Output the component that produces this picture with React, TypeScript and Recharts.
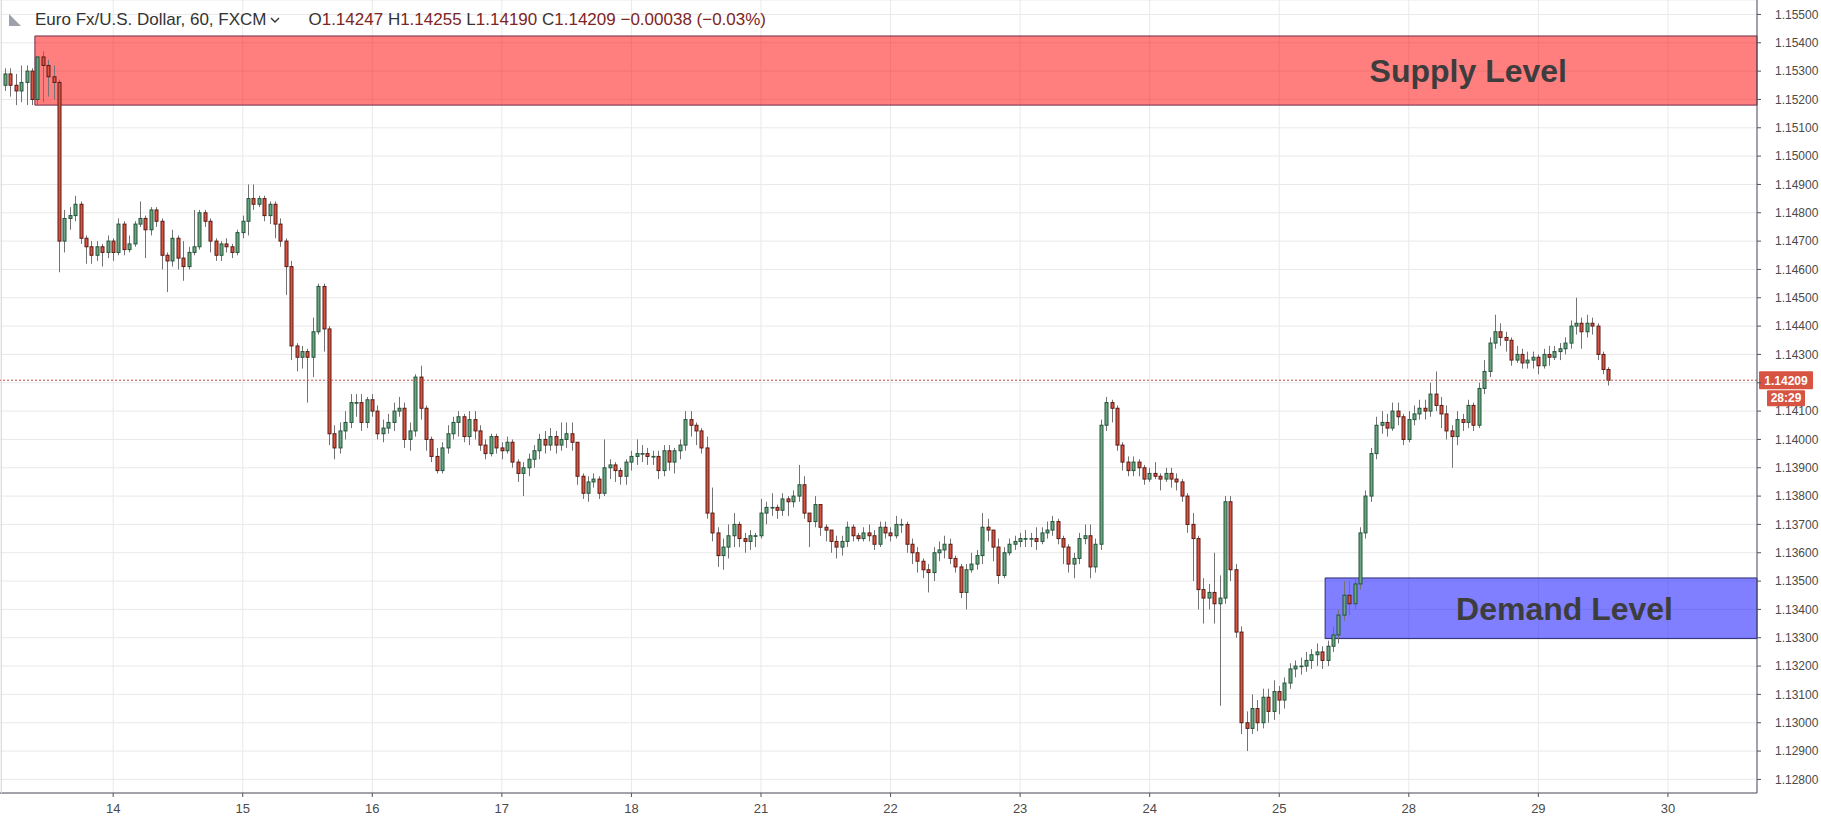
import React from "react";
import {
  ComposedChart,
  Bar,
  XAxis,
  YAxis,
  CartesianGrid,
  ReferenceArea,
  ReferenceLine,
  Label,
} from "recharts";

// day labels on the time axis and the bar index where each day starts
const dayStarts = [20, 44, 68, 92, 116, 140, 164, 188, 212, 236, 260, 284, 308];
const dayLabels = ["14", "15", "16", "17", "18", "21", "22", "23", "24", "25", "28", "29", "30"];

const priceTicks = [
  1.128, 1.129, 1.13, 1.131, 1.132, 1.133, 1.134, 1.135, 1.136, 1.137, 1.138, 1.139, 1.14, 1.141,
  1.142, 1.143, 1.144, 1.145, 1.146, 1.147, 1.148, 1.149, 1.15, 1.151, 1.152, 1.153, 1.154, 1.155,
];

// hourly candles, open of each bar = close of the previous one
const firstOpen = 1.1525;
const closes = [
  1.1529, 1.1525, 1.1523, 1.1526, 1.153, 1.152, 1.1535, 1.1532, 1.1528, 1.1526,
  1.147, 1.1478, 1.1479, 1.1483, 1.1471, 1.1468, 1.1465, 1.1468, 1.1466, 1.147,
  1.1466, 1.1476, 1.1467, 1.1469, 1.1476, 1.1478, 1.1474, 1.1481, 1.1477, 1.1465,
  1.1463, 1.1471, 1.1464, 1.1461, 1.1466, 1.1468, 1.148, 1.1477, 1.147, 1.1465,
  1.1469, 1.1468, 1.1466, 1.1473, 1.1477, 1.1485, 1.1483, 1.1485, 1.1479, 1.1483,
  1.1476, 1.147, 1.1461, 1.1433, 1.1429, 1.1431, 1.1429, 1.1438, 1.1454, 1.1439,
  1.1402, 1.1397, 1.1403, 1.1406, 1.1413, 1.1413, 1.1406, 1.1414, 1.141, 1.1402,
  1.1404, 1.1406, 1.141, 1.1411, 1.14, 1.1403, 1.1422, 1.1411, 1.14, 1.1394,
  1.1389, 1.1397, 1.1402, 1.1406, 1.1408, 1.1401, 1.1407, 1.1403, 1.1398, 1.1395,
  1.1401, 1.1397, 1.1396, 1.1399, 1.1392, 1.1388, 1.139, 1.1393, 1.1396, 1.14,
  1.1398, 1.1401, 1.1398, 1.14, 1.1402, 1.1399, 1.1387, 1.1381, 1.1385, 1.1386,
  1.1381, 1.139, 1.1391, 1.1389, 1.1387, 1.1392, 1.1394, 1.1395, 1.1395, 1.1394,
  1.1394, 1.1389, 1.1396, 1.1392, 1.1396, 1.1398, 1.1407, 1.1405, 1.1403, 1.1397,
  1.1374, 1.1367, 1.1359, 1.1362, 1.1366, 1.137, 1.1365, 1.1364, 1.1366, 1.1366,
  1.1374, 1.1376, 1.1376, 1.1375, 1.1379, 1.1378, 1.138, 1.1384, 1.1374, 1.1371,
  1.1377, 1.1369, 1.1368, 1.1364, 1.1362, 1.1364, 1.1369, 1.1366, 1.1365, 1.1367,
  1.1366, 1.1363, 1.1369, 1.1367, 1.1366, 1.137, 1.137, 1.1363, 1.136, 1.1357,
  1.1354, 1.1353, 1.136, 1.1361, 1.1363, 1.1358, 1.1355, 1.1346, 1.1354, 1.1356,
  1.1359, 1.1369, 1.1368, 1.1362, 1.1352, 1.136, 1.1363, 1.1364, 1.1365, 1.1365,
  1.1365, 1.1364, 1.1367, 1.1368, 1.1371, 1.1365, 1.1362, 1.1356, 1.1358, 1.1365,
  1.1366, 1.1355, 1.1363, 1.1405, 1.1413, 1.1411, 1.1398, 1.1392, 1.1389, 1.1392,
  1.139, 1.1386, 1.1388, 1.1387, 1.1386, 1.1388, 1.1386, 1.1385, 1.138, 1.137,
  1.1365, 1.1347, 1.1344, 1.1346, 1.1342, 1.1344, 1.1378, 1.1354, 1.1332, 1.13,
  1.1298, 1.1305, 1.13, 1.1309, 1.1304, 1.1311, 1.1308, 1.1314, 1.1319, 1.132,
  1.132, 1.1322, 1.1324, 1.1325, 1.1322, 1.1327, 1.1331, 1.1338, 1.1345, 1.1342,
  1.1349, 1.1367, 1.138, 1.1395, 1.1405, 1.1406, 1.1404, 1.141, 1.1408, 1.14,
  1.1407, 1.1409, 1.1411, 1.141, 1.1416, 1.1412, 1.1409, 1.1403, 1.1401, 1.1407,
  1.1406, 1.1412, 1.1405, 1.1418, 1.1424, 1.1434, 1.1438, 1.1436, 1.1435, 1.1428,
  1.143, 1.1427, 1.1428, 1.1429, 1.1426, 1.143, 1.1429, 1.1431, 1.1432, 1.1434,
  1.144, 1.1441, 1.1438, 1.1441, 1.144, 1.143, 1.14247, 1.14209,
];
const highs = [
  1.1531, 1.1531, 1.1529, 1.1532, 1.1532, 1.1531, 1.1535, 1.1537, 1.1534, 1.1532,
  1.1527, 1.1481, 1.1482, 1.1486, 1.1484, 1.1472, 1.147, 1.147, 1.1469, 1.1472,
  1.1471, 1.1478, 1.1477, 1.1472, 1.1477, 1.1484, 1.1479, 1.1482, 1.1482, 1.1478,
  1.1466, 1.1474, 1.1472, 1.147, 1.1468, 1.1481, 1.1481, 1.1481, 1.1478, 1.1471,
  1.147, 1.1471, 1.1469, 1.1474, 1.1479, 1.149, 1.149, 1.1486, 1.1486, 1.1484,
  1.1484, 1.1478, 1.1471, 1.1463, 1.1434, 1.1433, 1.1432, 1.1443, 1.1455, 1.1455,
  1.144, 1.1405, 1.1406, 1.141, 1.1416, 1.1416, 1.1416, 1.1415, 1.1416, 1.1412,
  1.1407, 1.1409, 1.1413, 1.1415, 1.1413, 1.1406, 1.1423, 1.1426, 1.1412, 1.1401,
  1.1397, 1.1399, 1.1405, 1.1408, 1.141, 1.1409, 1.141, 1.141, 1.1405, 1.14,
  1.1402, 1.1402, 1.1399, 1.1401, 1.14, 1.1393, 1.1392, 1.1395, 1.1398, 1.1402,
  1.1403, 1.1404, 1.1403, 1.1406, 1.1406, 1.1406, 1.1399, 1.1388, 1.1387, 1.1388,
  1.1387, 1.14, 1.1393, 1.1392, 1.139, 1.1393, 1.1396, 1.14, 1.1398, 1.1397,
  1.1396, 1.1396, 1.1398, 1.1398, 1.1397, 1.14, 1.141, 1.141, 1.1406, 1.1404,
  1.1401, 1.1383, 1.1369, 1.1365, 1.137, 1.1374, 1.1371, 1.1367, 1.1368, 1.1367,
  1.1379, 1.1378, 1.1381, 1.1377, 1.1381, 1.138, 1.1382, 1.1391, 1.1387, 1.1374,
  1.138, 1.1377, 1.137, 1.1368, 1.1366, 1.1366, 1.1371, 1.137, 1.1367, 1.1369,
  1.137, 1.1368, 1.1371, 1.1371, 1.1369, 1.1373, 1.1372, 1.1371, 1.1365, 1.1362,
  1.1358, 1.1356, 1.1362, 1.1364, 1.1366, 1.1365, 1.1359, 1.1356, 1.1356, 1.136,
  1.1361, 1.1374, 1.1372, 1.1368, 1.1365, 1.1362, 1.1365, 1.1366, 1.1367, 1.1368,
  1.1367, 1.1369, 1.1369, 1.1371, 1.1373, 1.1372, 1.1366, 1.1363, 1.136, 1.1367,
  1.137, 1.137, 1.1365, 1.1407, 1.1415, 1.1414, 1.1412, 1.1399, 1.1394, 1.1394,
  1.1393, 1.1391, 1.139, 1.1392, 1.1388, 1.139, 1.139, 1.1388, 1.1386, 1.1381,
  1.1374, 1.1366, 1.1351, 1.1349, 1.136, 1.1352, 1.138, 1.138, 1.1356, 1.1334,
  1.1304, 1.131, 1.1308, 1.1312, 1.1312, 1.1315, 1.1313, 1.1316, 1.1321, 1.1322,
  1.1323, 1.1325, 1.1326, 1.1328, 1.1327, 1.1329, 1.1334, 1.134, 1.135, 1.135,
  1.1351, 1.1369, 1.1382, 1.1397, 1.1408, 1.141, 1.1409, 1.1413, 1.1413, 1.1409,
  1.141, 1.1412, 1.1414, 1.1414, 1.142, 1.1424, 1.1415, 1.1412, 1.1405, 1.141,
  1.1409, 1.1414, 1.1413, 1.142, 1.1428, 1.1436, 1.1444, 1.1441, 1.1438, 1.1436,
  1.1433, 1.1432, 1.1431, 1.1431, 1.143, 1.1432, 1.1433, 1.1433, 1.1434, 1.1436,
  1.1442, 1.145, 1.1443, 1.1444, 1.1443, 1.1441, 1.1431, 1.14255,
];
const lows = [
  1.1523, 1.1521, 1.1518, 1.1519, 1.1518, 1.1518, 1.1518, 1.1519, 1.1521, 1.152,
  1.1459, 1.1466, 1.1474, 1.1477, 1.1469, 1.1462, 1.1462, 1.1463, 1.1461, 1.1464,
  1.1463, 1.1465, 1.1465, 1.1466, 1.1468, 1.1475, 1.1464, 1.1472, 1.1475, 1.146,
  1.1452, 1.1461, 1.146, 1.1456, 1.146, 1.1465, 1.1467, 1.1475, 1.1466, 1.1463,
  1.1463, 1.1466, 1.1464, 1.1465, 1.1471, 1.1472, 1.1481, 1.1482, 1.1477, 1.1476,
  1.1471, 1.1468, 1.1451, 1.1428, 1.1424, 1.1425, 1.1413, 1.1422, 1.1437, 1.1431,
  1.1398, 1.1393, 1.1395, 1.14, 1.1404, 1.1408, 1.1403, 1.1404, 1.1408, 1.14,
  1.1399, 1.1402, 1.1403, 1.1408, 1.1397, 1.1396, 1.1401, 1.1407, 1.1396, 1.1392,
  1.1388, 1.1388, 1.1395, 1.14, 1.1401, 1.1399, 1.1398, 1.14, 1.1396, 1.1393,
  1.1394, 1.1395, 1.1393, 1.1395, 1.139, 1.1385, 1.138, 1.1387, 1.139, 1.1393,
  1.1395, 1.1396, 1.1395, 1.1396, 1.1397, 1.1396, 1.1384, 1.1379, 1.1378, 1.1383,
  1.1379, 1.138, 1.1386, 1.1385, 1.1384, 1.1384, 1.1389, 1.1391, 1.1392, 1.1391,
  1.1391, 1.1386, 1.1387, 1.1389, 1.1388, 1.1393, 1.1396, 1.1401, 1.1398, 1.1395,
  1.1372, 1.1364, 1.1355, 1.1354, 1.1358, 1.1362, 1.1362, 1.136, 1.1361, 1.1362,
  1.1365, 1.137, 1.1373, 1.1372, 1.1373, 1.1373, 1.1376, 1.1378, 1.1372, 1.1362,
  1.1369, 1.1366, 1.1364, 1.136, 1.1358, 1.1359, 1.1362, 1.1364, 1.1364, 1.1364,
  1.1364, 1.1361, 1.1362, 1.1365, 1.1364, 1.1365, 1.1367, 1.136, 1.1356, 1.1353,
  1.1351, 1.1346, 1.135, 1.1357, 1.1358, 1.1356, 1.1353, 1.1344, 1.134, 1.1353,
  1.1354, 1.1356, 1.1364, 1.1357, 1.1349, 1.1351, 1.1359, 1.1361, 1.1362, 1.1362,
  1.1362, 1.1361, 1.1363, 1.1365, 1.1366, 1.1363, 1.1356, 1.1353, 1.1351, 1.1356,
  1.1363, 1.1351, 1.1353, 1.1361, 1.1403, 1.1406, 1.1396, 1.1389, 1.1387, 1.1387,
  1.1387, 1.1384, 1.1385, 1.1386, 1.1382, 1.1385, 1.1383, 1.1382, 1.1378, 1.1367,
  1.135, 1.134, 1.1335, 1.134, 1.1335, 1.1306, 1.1342, 1.135, 1.133, 1.1296,
  1.129, 1.1296, 1.1297, 1.1298, 1.13, 1.1301, 1.1303, 1.1305, 1.1312, 1.1316,
  1.1317, 1.1318, 1.1319, 1.132, 1.1319, 1.132, 1.1325, 1.1328, 1.1336, 1.1338,
  1.134, 1.1347, 1.1365, 1.1378, 1.1393, 1.1402, 1.1401, 1.1403, 1.1405, 1.1398,
  1.1399, 1.1405, 1.1407, 1.1407, 1.1408, 1.141, 1.1404, 1.14, 1.139, 1.1398,
  1.1403, 1.1404, 1.1403, 1.1404, 1.1416, 1.1422, 1.1432, 1.1433, 1.1431, 1.1426,
  1.1427, 1.1425, 1.1425, 1.1425, 1.1423, 1.1425, 1.1426, 1.1428, 1.1428, 1.143,
  1.1432, 1.1437, 1.1432, 1.1436, 1.1437, 1.1428, 1.1423, 1.1419,
];

const supplyZone = [1.1518, 1.15424];
const demandZone = [1.13297, 1.13511];
const supplyStartBar = 6;
const demandStartBar = 245;
const lastPrice = 1.14209;
const countdown = "28:29";
const emptyBarsRight = 27;

const data = Array.from({ length: closes.length + emptyBarsRight }, (_, i) => {
  if (i >= closes.length) return { i };
  const o = i === 0 ? firstOpen : closes[i - 1];
  return { i, o, c: closes[i], h: highs[i], l: lows[i], range: [lows[i], highs[i]] };
});
const lastBar = data.length - 1;

const UP = { fill: "#6ba583", stroke: "#225437" };
const DOWN = { fill: "#d75442", stroke: "#5b1a13" };

const Candle = (props: any) => {
  const { x, y, width, height, payload } = props;
  if (!payload || payload.h == null) return null;
  const { o, c, h, l } = payload;
  const span = h - l || 1e-9;
  const toY = (v: number) => y + ((h - v) / span) * height;
  const cx = Math.round(x + width / 2) + 0.5;
  const top = toY(Math.max(o, c));
  const bot = toY(Math.min(o, c));
  const col = c >= o ? UP : DOWN;
  return (
    <g>
      <line x1={cx} x2={cx} y1={y} y2={y + height} stroke="#737375" strokeWidth={1} />
      <rect
        x={cx - 1.5}
        y={top}
        width={3}
        height={Math.max(bot - top, 0.6)}
        fill={col.fill}
        stroke={col.stroke}
        strokeWidth={1}
      />
    </g>
  );
};

// the live price tag hides the 1.14200 label behind it
const PriceTag = (props: any) => {
  const vb = props.viewBox;
  if (!vb) return null;
  const x = vb.x + vb.width;
  const y = vb.y;
  return (
    <g fontFamily="'Liberation Sans', Arial, sans-serif">
      <rect x={x + 2} y={y - 9} width={54} height={18} rx={1} fill="#d75442" />
      <text x={x + 29} y={y + 4.5} textAnchor="middle" fill="#fff" fontSize={12} fontWeight="bold">
        {lastPrice.toFixed(5)}
      </text>
      <rect x={x + 10} y={y + 10} width={38} height={16} rx={1} fill="#d75442" />
      <text x={x + 29} y={y + 22} textAnchor="middle" fill="#fff" fontSize={12} fontWeight="bold">
        {countdown}
      </text>
    </g>
  );
};

const App = () => {
  return (
    <div
      style={{
        position: "absolute",
        left: 0,
        top: 0,
        width: 1821,
        height: 823,
        background: "#fff",
        fontFamily: "'Liberation Sans', Arial, sans-serif",
      }}
    >
      <ComposedChart
        width={1821}
        height={823}
        data={data}
        margin={{ top: 0, right: 0, bottom: 0, left: 0 }}
        barCategoryGap={0}
      >
        <CartesianGrid stroke="#e9e9ea" />
        <XAxis
          dataKey="i"
          type="category"
          ticks={dayStarts}
          interval={0}
          tickFormatter={(v) => dayLabels[dayStarts.indexOf(Number(v))] ?? ""}
          height={30}
          padding={{ left: 2.5, right: 0 }}
          axisLine={{ stroke: "#50535e" }}
          tickLine={{ stroke: "#50535e" }}
          tickSize={4}
          tickMargin={7}
          tick={{ fontSize: 13, fill: "#4a4a4a" }}
        />
        <YAxis
          orientation="right"
          type="number"
          domain={[1.12752, 1.15551]}
          allowDataOverflow
          ticks={priceTicks}
          interval={0}
          tickFormatter={(v) => (Math.abs(Number(v) - 1.142) < 1e-7 ? "" : Number(v).toFixed(5))}
          width={64}
          axisLine={{ stroke: "#50535e" }}
          tickLine={{ stroke: "#50535e" }}
          tickSize={4}
          tickMargin={14}
          tick={{ fontSize: 12, fill: "#4a4a4a", textAnchor: "start" }}
        />
        <ReferenceArea
          x1={supplyStartBar}
          x2={lastBar}
          y1={supplyZone[0]}
          y2={supplyZone[1]}
          fill="#ff0000"
          fillOpacity={0.5}
          stroke="#6f2a4a"
          strokeOpacity={1}
          ifOverflow="visible"
        >
          <Label
            value="Supply Level"
            position="insideRight"
            offset={190}
            fill="#3d3d3d"
            fontSize={32}
            fontWeight="bold"
          />
        </ReferenceArea>
        <ReferenceArea
          x1={demandStartBar}
          x2={lastBar}
          y1={demandZone[0]}
          y2={demandZone[1]}
          fill="#0000ff"
          fillOpacity={0.5}
          stroke="#2c2c6e"
          strokeOpacity={1}
          ifOverflow="visible"
        >
          <Label
            value="Demand Level"
            position="insideRight"
            offset={84}
            fill="#3d3d3d"
            fontSize={32}
            fontWeight="bold"
          />
        </ReferenceArea>
        <ReferenceLine
          y={lastPrice}
          stroke="#c8473f"
          strokeDasharray="2 2"
          label={<PriceTag />}
        />
        <Bar
          dataKey="range"
          isAnimationActive={false}
          shape={(p: any) => <Candle {...p} />}
        />
      </ComposedChart>
      {/* left border of the chart pane */}
      <div
        style={{
          position: "absolute",
          left: 1,
          top: 0,
          width: 1,
          height: 793,
          background: "#dcdde0",
        }}
      />
      <div
        style={{
          position: "absolute",
          left: 8,
          top: 10,
          height: 20,
          display: "flex",
          alignItems: "center",
          fontSize: 17,
          color: "#333",
          whiteSpace: "nowrap",
        }}
      >
        <svg width={14} height={14} style={{ marginRight: 13 }}>
          <path d="M1 1 L1 13 L13 13 Z" fill="#9ea1aa" />
        </svg>
        <span>Euro Fx/U.S. Dollar, 60, FXCM</span>
        <svg width={10} height={8} style={{ marginLeft: 4, marginRight: 28 }}>
          <path d="M1 2 L5 6 L9 2" stroke="#333" strokeWidth={1.4} fill="none" />
        </svg>
        <span style={{ color: "#7d2525" }}>
          <span style={{ color: "#333" }}>O</span>1.14247{" "}
          <span style={{ color: "#333" }}>H</span>1.14255{" "}
          <span style={{ color: "#333" }}>L</span>1.14190{" "}
          <span style={{ color: "#333" }}>C</span>1.14209 −0.00038 (−0.03%)
        </span>
      </div>
    </div>
  );
};

export default App;
